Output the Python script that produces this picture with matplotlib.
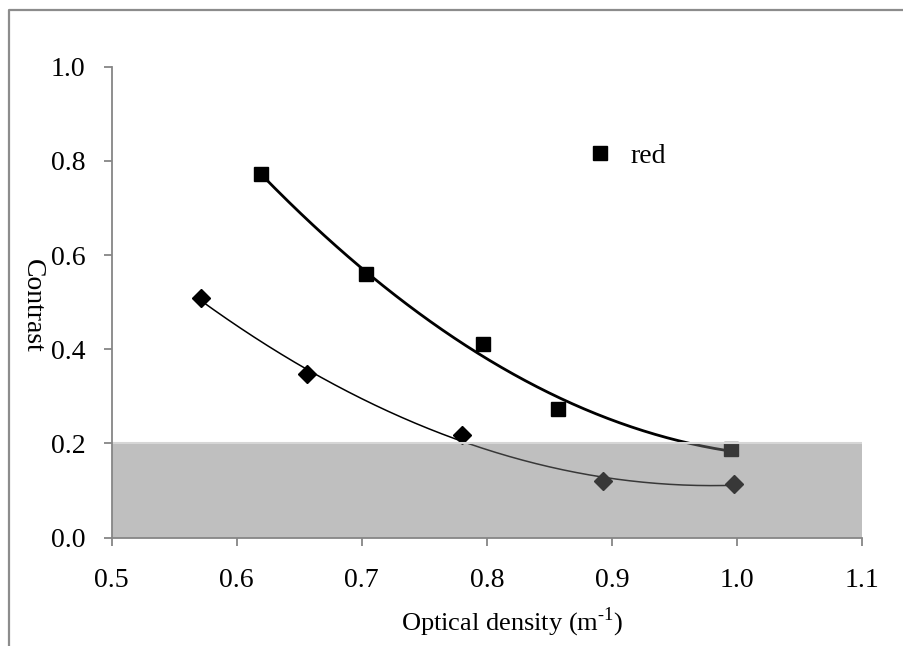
import numpy as np
import matplotlib
matplotlib.use("Agg")
import matplotlib.pyplot as plt
from matplotlib.lines import Line2D
from matplotlib.patches import Rectangle

plt.rcParams['font.family'] = ['Liberation Serif', 'DejaVu Serif']
plt.rcParams['mathtext.fontset'] = 'custom'
plt.rcParams['mathtext.rm'] = 'Liberation Serif'

# Data
red_x = [0.619, 0.703, 0.797, 0.857, 0.995]
red_y = [0.772, 0.560, 0.412, 0.273, 0.188]
other_x = [0.571, 0.656, 0.780, 0.893, 0.998]
other_y = [0.508, 0.347, 0.217, 0.121, 0.113]
threshold = 0.2
x_ticks = [0.5, 0.6, 0.7, 0.8, 0.9, 1.0, 1.1]
y_ticks = [0.0, 0.2, 0.4, 0.6, 0.8, 1.0]

fig = plt.figure(figsize=(9.04, 6.46), dpi=100)
ax = fig.add_axes([0.1236, 0.1677, 0.9535 - 0.1236, 0.8967 - 0.1677])

axis_gray = '#868686'

# polynomial trendlines (order 2) fitted to the data
for xs, ys, lw in [(red_x, red_y, 2.0), (other_x, other_y, 1.1)]:
    c = np.polyfit(xs, ys, 2)
    xx = np.linspace(min(xs), max(xs), 200)
    ax.plot(xx, np.polyval(c, xx), color='black', lw=lw, zorder=2)

ax.plot(red_x, red_y, linestyle='none', marker='s', markersize=10,
        color='black', zorder=3, label='red')
ax.plot(other_x, other_y, linestyle='none', marker='D', markersize=9.5,
        color='black', zorder=3)

# semi-transparent gray band on top of the data
ax.add_patch(Rectangle((0.5, 0.0), 0.6, threshold, facecolor='#787878',
                       alpha=0.47, edgecolor='none', zorder=4))
ax.axhline(threshold, color='#d6d6d6', lw=1.5, zorder=4.5)

ax.set_xlim(0.5, 1.1)
ax.set_ylim(0.0, 1.0)
ax.set_xticks(x_ticks)
ax.set_yticks(y_ticks)
ax.set_xticklabels([f'{v:.1f}' for v in x_ticks])
ax.set_yticklabels([f'{v:.1f}' for v in y_ticks])

for s in ['top', 'right']:
    ax.spines[s].set_visible(False)
for s in ['left', 'bottom']:
    ax.spines[s].set_color(axis_gray)
    ax.spines[s].set_linewidth(1.3)
    ax.spines[s].set_zorder(5)
ax.tick_params(axis='both', direction='out', color=axis_gray, width=1.3,
               length=6, labelsize=20, labelcolor='black')
ax.tick_params(axis='x', pad=16)
ax.tick_params(axis='y', pad=13)

fig.text(0.567, 0.037, r'Optical density (m$^{\text{-1}}$)', fontsize=19,
         ha='center', va='center')
fig.text(0.036, 0.527, 'Contrast', fontsize=20, rotation=-90,
         ha='center', va='center')

ax.legend(loc='center left', bbox_to_anchor=(0.632, 0.81), frameon=False,
          borderpad=0, borderaxespad=0, handlelength=1.0, handletextpad=0.6,
          fontsize=20)

# outer chart border (top and left visible in the crop)
fig.add_artist(Line2D([0.00996, 0.00996, 1.0], [0.0, 0.9845, 0.9845],
                      transform=fig.transFigure, color='#8c8c8c', lw=1.6))

fig.savefig('out.png', dpi=100)
